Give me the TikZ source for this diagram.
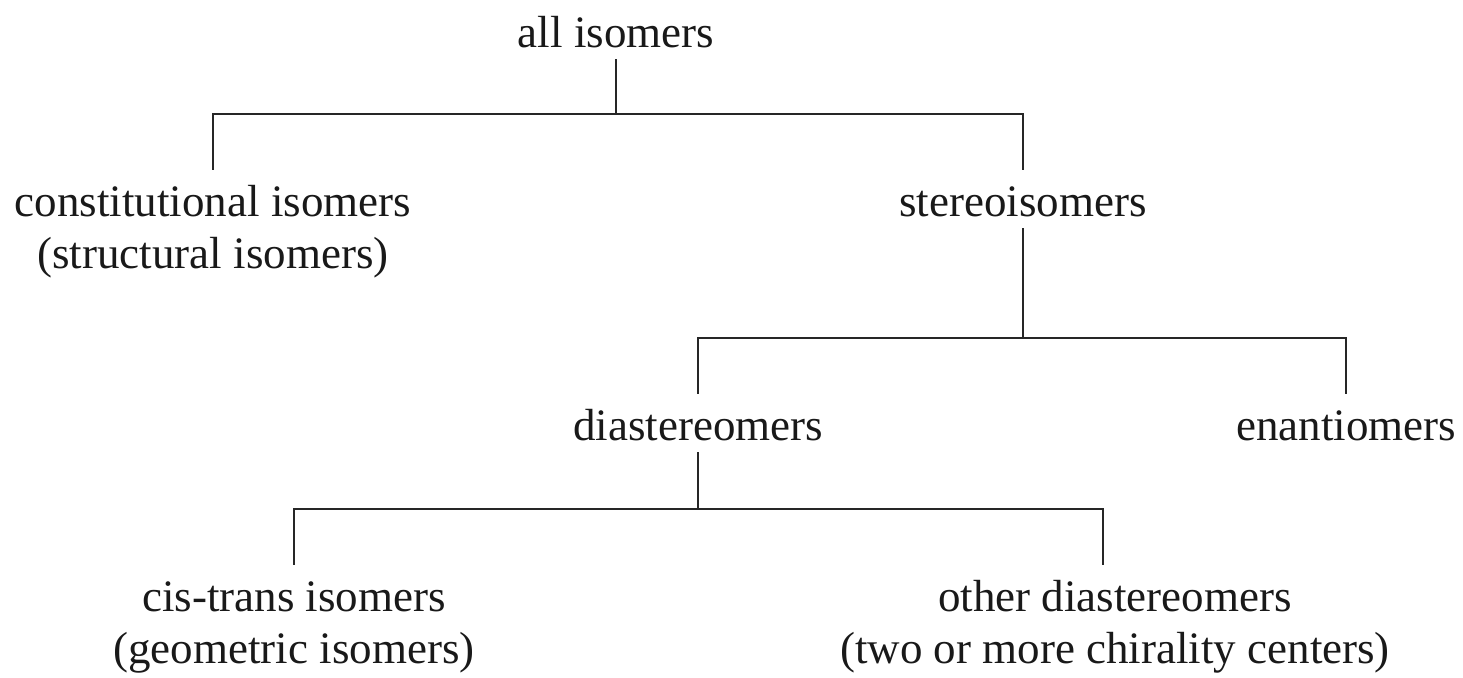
\documentclass[tikz,border=0pt]{standalone}
\usepackage{fontspec}
\setmainfont{Liberation Serif}

\tikzset{
  term/.style={inner sep=0pt, anchor=base, align=center, text height=23pt, text=black!90,
    font=\fontsize{22.5}{26}\selectfont},
  parent/.style={term, text depth=6pt},
  pair/.style={term, text height=49pt},
  link/.style={line width=1pt, black!85},
}

\begin{document}
\begin{tikzpicture}[x=0.5pt, y=-0.5pt]
  \useasboundingbox (0,0) rectangle (1463,677);

  \node[parent] (all) at (616,47) {all isomers};
  \node[pair] (cons) at (213,268) {constitutional isomers\\(structural isomers)};
  \node[parent] (stereo) at (1023,216) {stereoisomers};
  \node[parent] (dia) at (698,440) {diastereomers};
  \node[term] (enan) at (1346,440) {enantiomers};
  \node[pair] (cis) at (294,663) {cis-trans isomers\\(geometric isomers)};
  \node[pair] (other) at (1115,663) {other diastereomers\\(two or more chirality centers)};

  \coordinate (fork1) at (0,114);
  \coordinate (fork2) at (0,338);
  \coordinate (fork3) at (0,509);

  \draw[link] (all.south) -- (all.south |- fork1) -| (cons.north);
  \draw[link] (all.south |- fork1) -| (stereo.north);

  \draw[link] (stereo.south) -- (stereo.south |- fork2) -| (dia.north);
  \draw[link] (stereo.south |- fork2) -| (enan.north);

  \draw[link] (dia.south) -- (dia.south |- fork3) -| (cis.north);
  \draw[link] (dia.south |- fork3) -| ([xshift=-6pt]other.north);
\end{tikzpicture}
\end{document}
